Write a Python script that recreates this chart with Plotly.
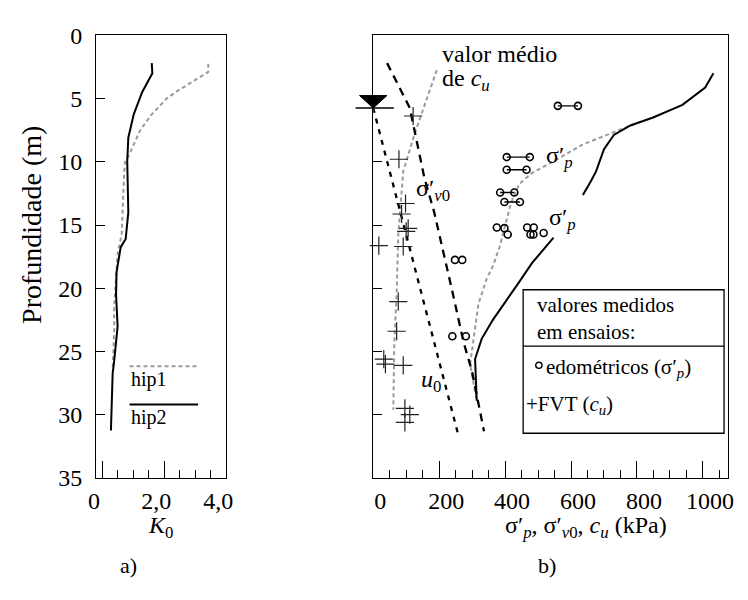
import plotly.graph_objects as go

# ---------------- data ----------------
# (a) K0 profiles
hip1_depth = [2.25, 2.9, 4.4, 5.0, 6.25, 7.5, 9.5, 10.0, 11.0, 15.75, 17.25, 21.5, 23.25, 26.5]
hip1_k0 = [3.42, 3.42, 2.43, 2.08, 1.60, 1.23, 0.86, 0.74, 0.71, 0.63, 0.50, 0.39, 0.39, 0.34]
hip2_depth = [2.2, 3.0, 4.5, 6.25, 8.1, 10.0, 14.0, 16.1, 16.75, 18.75, 20.5, 23.0, 25.75, 26.75, 31.25]
hip2_k0 = [1.60, 1.62, 1.29, 1.02, 0.845, 0.81, 0.845, 0.76, 0.60, 0.465, 0.45, 0.50, 0.39, 0.34, 0.285]

# (b) stresses (kPa) vs depth (m)
sv0_depth = [2.2, 5.75, 11.25, 14.0, 20.25, 24.26, 26.5, 31.3]
sv0_kpa = [42, 111, 155, 185, 240, 274, 299, 336]
u0_depth = [5.75, 31.6]
u0_kpa = [0, 258]
cu_depth = [2.75, 7.76, 10.76, 15.75, 20.5, 24.26, 29.6]
cu_kpa = [193, 126, 91, 76, 71, 64, 61]
sp1_depth = [7.0, 8.63, 10.25, 10.88, 11.75, 13.26, 14.76, 16.76, 18.26, 19.26, 21.26, 24.26, 26.0, 28.9]
sp1_kpa = [794, 636, 527, 482, 443, 418, 403, 383, 363, 344, 319, 304, 294, 314]
sp2_depth = [3.0, 4.13, 5.5, 6.5, 7.13, 7.88, 9.0, 10.76, 11.5, 12.63, None,
             16.0, 18.0, 19.5, 22.5, 24.0, 25.6, 28.9]
sp2_kpa = [1032, 1007, 938, 849, 780, 730, 700, 676, 661, 636, None,
           547, 482, 443, 363, 329, 309, 314]

# oedometer results (paired and single)
edo_pair_depth = [5.58, 9.63, 10.63, 12.43, 13.18]
edo_pair_lo = [560, 405, 405, 385, 398]
edo_pair_hi = [621, 475, 465, 428, 445]
edo_depth = [15.2, 15.25, 15.75, 15.2, 15.2, 15.75, 15.75, 15.63, 17.76, 17.76, 23.8, 23.8]
edo_kpa = [375, 398, 408, 467, 487, 477, 486, 517, 248, 270, 240, 281]

# field vane tests
fvt_depth = [6.38, 9.8, 13.3, 14.13, 15.26, 15.5, 16.63, 16.7, 21.06, 23.4,
             25.6, 26.0, 26.1, 29.5, 30.0, 30.6]
fvt_kpa = [121, 78, 98, 86, 106, 100, 17, 91, 76, 71, 32, 37, 91, 96, 111, 96]

WT_DEPTH = 5.75

x1_ticks = [0, 2, 4]
x1_ticktext = ["0", "2,0", "4,0"]
depth_ticks = [0, 5, 10, 15, 20, 25, 30, 35]

# ---------------- layout helpers ----------------
W, H = 748, 600
FONT = "Liberation Serif"
GRAY = "#9a9a9a"


def fx(px):
    return px / W


def fy(py):
    return 1 - py / H


LEFT_X = [fx(90), fx(222.7)]
RIGHT_X = [fx(372.7), fx(735)]
Y_DOM = [fy(486), fy(23.3)]
X1_RANGE = [-0.19, 4.0]
X2_RANGE = [0, 1077]
Y_RANGE = [35, 0]


def x2_paper(v):
    return RIGHT_X[0] + (v - X2_RANGE[0]) / (X2_RANGE[1] - X2_RANGE[0]) * (RIGHT_X[1] - RIGHT_X[0])


def y_paper(d):
    return Y_DOM[1] - (d - Y_RANGE[1]) / (Y_RANGE[0] - Y_RANGE[1]) * (Y_DOM[1] - Y_DOM[0])


fig = go.Figure()

# (a)
fig.add_trace(go.Scatter(x=hip1_k0, y=hip1_depth, mode="lines", xaxis="x", yaxis="y",
                         line=dict(color=GRAY, width=2, dash="4px,3px")))
fig.add_trace(go.Scatter(x=hip2_k0, y=hip2_depth, mode="lines", xaxis="x", yaxis="y",
                         line=dict(color="black", width=2)))

# (b) lines
fig.add_trace(go.Scatter(x=cu_kpa, y=cu_depth, mode="lines", xaxis="x2", yaxis="y2",
                         line=dict(color=GRAY, width=2, dash="4px,3px")))
fig.add_trace(go.Scatter(x=sp1_kpa, y=sp1_depth, mode="lines", xaxis="x2", yaxis="y2",
                         line=dict(color=GRAY, width=2, dash="4px,3px")))
fig.add_trace(go.Scatter(x=sv0_kpa, y=sv0_depth, mode="lines", xaxis="x2", yaxis="y2",
                         line=dict(color="black", width=2.3, dash="8px,6px")))
fig.add_trace(go.Scatter(x=u0_kpa, y=u0_depth, mode="lines", xaxis="x2", yaxis="y2",
                         line=dict(color="black", width=2.3, dash="5px,6px")))
fig.add_trace(go.Scatter(x=sp2_kpa, y=sp2_depth, mode="lines", xaxis="x2", yaxis="y2",
                         connectgaps=False, line=dict(color="black", width=2)))

# oedometer pairs
px_, py_ = [], []
for d, lo, hi in zip(edo_pair_depth, edo_pair_lo, edo_pair_hi):
    px_ += [lo, hi, None]
    py_ += [d, d, None]
fig.add_trace(go.Scatter(x=px_, y=py_, mode="lines+markers", xaxis="x2", yaxis="y2",
                         line=dict(color="black", width=1.3),
                         marker=dict(symbol="circle-open", size=7, color="black",
                                     line=dict(width=1.6))))
fig.add_trace(go.Scatter(x=edo_kpa, y=edo_depth, mode="markers", xaxis="x2", yaxis="y2",
                         marker=dict(symbol="circle-open", size=7, color="black",
                                     line=dict(width=1.6))))
# FVT
fig.add_trace(go.Scatter(x=fvt_kpa, y=fvt_depth, mode="markers", xaxis="x2", yaxis="y2",
                         cliponaxis=False,
                         marker=dict(symbol="cross-thin-open", size=13, color="#222",
                                     line=dict(width=1.2, color="#222"))))

axis_common = dict(showline=True, linecolor="black", linewidth=1.3, mirror=True,
                   showgrid=False, zeroline=False, tickcolor="black",
                   tickfont=dict(family=FONT, size=24, color="black"))

fig.update_layout(
    width=W, height=H, autosize=False,
    margin=dict(l=0, r=0, t=0, b=0),
    paper_bgcolor="white", plot_bgcolor="white",
    showlegend=False,
    font=dict(family=FONT, size=24, color="black"),
    xaxis=dict(domain=LEFT_X, range=X1_RANGE, anchor="y",
               tickvals=x1_ticks, ticktext=x1_ticktext, ticks="inside", ticklen=17,
               minor=dict(ticks="inside", ticklen=8, dtick=0.5, tick0=0, tickcolor="black"),
               ticklabelshift=-8, ticklabelstandoff=1, **axis_common),
    yaxis=dict(domain=Y_DOM, range=Y_RANGE, anchor="x",
               tickvals=depth_ticks, ticks="inside", ticklen=9,
               ticklabelstandoff=8, **axis_common),
    xaxis2=dict(domain=RIGHT_X, range=X2_RANGE, anchor="y2",
                dtick=200, tick0=0, ticks="inside", ticklen=17,
                minor=dict(ticks="inside", ticklen=8, dtick=50, tick0=0, tickcolor="black"),
                ticklabelshift=7, ticklabelstandoff=1, **axis_common),
    yaxis2=dict(domain=Y_DOM, range=Y_RANGE, anchor="x2",
                tickvals=depth_ticks, ticks="inside", ticklen=9,
                showticklabels=False, **axis_common),
)

shapes = []
# water table symbol
xw = x2_paper(0)
yw = y_paper(WT_DEPTH)
shapes.append(dict(type="path", xref="paper", yref="paper",
                   path=f"M {xw - 14/W} {yw + 13/H} L {xw + 14/W} {yw + 13/H} L {xw} {yw} Z",
                   fillcolor="black", line=dict(color="black", width=1)))
shapes.append(dict(type="line", xref="paper", yref="paper",
                   x0=xw - 18/W, x1=xw + 21/W, y0=yw, y1=yw,
                   line=dict(color="black", width=1.3)))
# left panel legend keys
shapes.append(dict(type="line", xref="paper", yref="paper",
                   x0=fx(124), x1=fx(194), y0=fy(369.3), y1=fy(369.3),
                   line=dict(color=GRAY, width=2, dash="4px,3px")))
shapes.append(dict(type="line", xref="paper", yref="paper",
                   x0=fx(124), x1=fx(194), y0=fy(409.3), y1=fy(409.3),
                   line=dict(color="black", width=2)))
# right legend box
shapes.append(dict(type="rect", xref="paper", yref="paper",
                   x0=fx(525.7), x1=fx(730.7), y0=fy(439.3), y1=fy(289.3),
                   fillcolor="white", line=dict(color="black", width=1.3)))
shapes.append(dict(type="line", xref="paper", yref="paper",
                   x0=fx(525.7), x1=fx(730.7), y0=fy(348.3), y1=fy(348.3),
                   line=dict(color="black", width=1.3)))
shapes.append(dict(type="circle", xref="paper", yref="paper",
                   x0=fx(538.5), x1=fx(545), y0=fy(371.5), y1=fy(365),
                   line=dict(color="black", width=1.4)))
fig.update_layout(shapes=shapes)


def ann(text, x, y, size=24, xanchor="center", yanchor="middle", angle=0):
    return dict(text=text, x=fx(x), y=fy(y), xref="paper", yref="paper",
                xanchor=xanchor, yanchor=yanchor, showarrow=False, textangle=angle,
                font=dict(family=FONT, size=size, color="black"))


annotations = [
    ann("Profundidade (m)", 24, 222, size=28, angle=-90),
    ann("<i>K</i><sub>0</sub>", 156, 520, yanchor="top"),
    ann("σ′<sub><i>p</i></sub>, σ′<sub><i>v</i>0</sub>, <i>c<sub>u</sub></i> (kPa)", 590, 520,
        yanchor="top"),
    ann("a)", 123, 578, size=22),
    ann("b)", 550, 578, size=22),
    ann("valor médio", 441, 43, xanchor="left"),
    ann("de <i>c<sub>u</sub></i>", 441, 70, xanchor="left"),
    ann("σ′<sub><i>v</i>0</sub>", 434, 185),
    ann("σ′<sub><i>p</i></sub>", 563, 150),
    ann("σ′<sub><i>p</i></sub>", 566, 215),
    ann("<i>u</i><sub>0</sub>", 432, 385),
    ann("hip1", 123, 383, size=20, xanchor="left"),
    ann("hip2", 123, 423, size=20, xanchor="left"),
    ann("valores medidos", 538, 305, size=21, xanchor="left"),
    ann("em ensaios:", 538, 333, size=21, xanchor="left"),
    ann("edométricos (σ′<sub><i>p</i></sub>)", 547, 371, size=21, xanchor="left"),
    ann("+FVT (<i>c<sub>u</sub></i>)", 527, 410, size=21, xanchor="left"),
]
fig.update_layout(annotations=annotations)

fig.write_html("out.html")
